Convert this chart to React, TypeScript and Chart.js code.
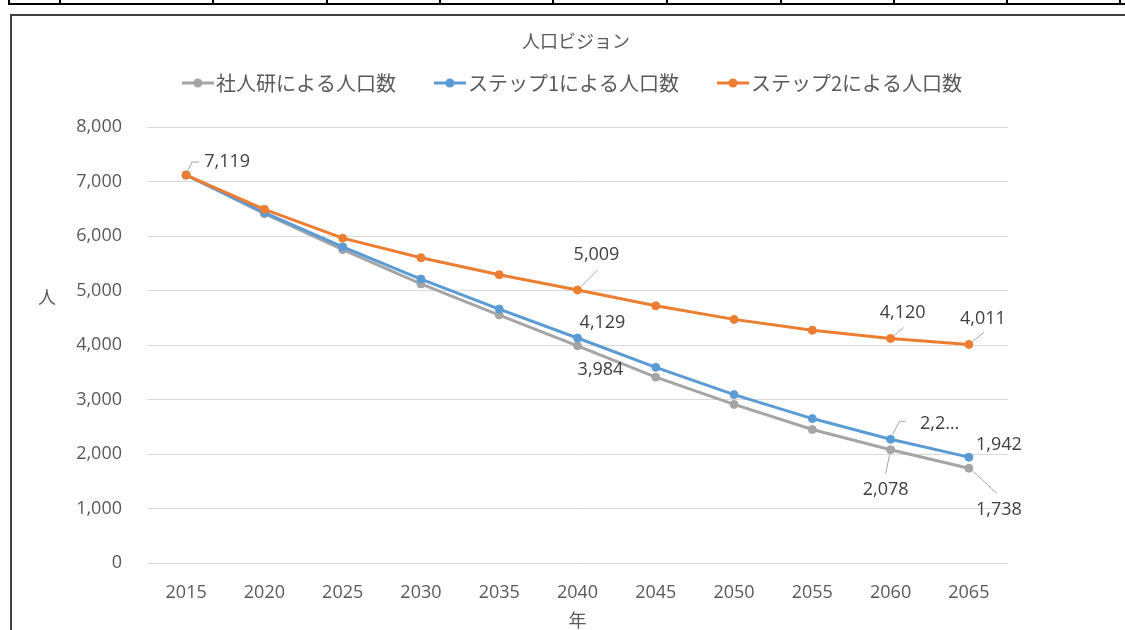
import React, { useEffect, useRef } from 'react';
import { Chart, registerables } from 'chart.js';

Chart.register(...registerables);

// ---- data ----
const chartTitle = '人口ビジョン';
const xAxisTitle = '年';
const yAxisTitle = '人';
const years = ['2015', '2020', '2025', '2030', '2035', '2040', '2045', '2050', '2055', '2060', '2065'];
const seriesNames = ['社人研による人口数', 'ステップ1による人口数', 'ステップ2による人口数'];
const shajinken = [7119, 6410, 5750, 5120, 4550, 3984, 3410, 2910, 2450, 2078, 1738];
const step1 = [7119, 6430, 5800, 5210, 4660, 4129, 3590, 3090, 2650, 2270, 1942];
const step2 = [7119, 6490, 5960, 5600, 5290, 5009, 4720, 4470, 4270, 4120, 4011];
const yMin = 0;
const yMax = 8000;
const yStep = 1000;

// which points carry a data label (dataset index, point index, optional shown text)
const labelledPoints = [
  { ds: 2, i: 0 },
  { ds: 2, i: 5 },
  { ds: 1, i: 5 },
  { ds: 0, i: 5 },
  { ds: 2, i: 9 },
  { ds: 2, i: 10 },
  { ds: 1, i: 9, text: '2,2…' },
  { ds: 1, i: 10 },
  { ds: 0, i: 9 },
  { ds: 0, i: 10 },
];

// ---- styles ----
const seriesColors = ['#A5A5A5', '#5B9BD5', '#ED7D31'];
const drawOrder = [3, 2, 1];
const labelPlacement: Record<string, { dx: number; dy: number; leader: number[][] }> = {
  '2-0': { dx: 41, dy: -13, leader: [[2, -5], [6, -13], [13, -13]] },
  '2-5': { dx: 19, dy: -35, leader: [[4, -4], [20, -20]] },
  '1-5': { dx: 25, dy: -15, leader: [] },
  '0-5': { dx: 23, dy: 24, leader: [] },
  '2-9': { dx: 12, dy: -26, leader: [[4, -3], [13, -11]] },
  '2-10': { dx: 14, dy: -26, leader: [[4, -3], [15, -12]] },
  '1-9': { dx: 49, dy: -15, leader: [[2, -5], [9, -18], [15, -18]] },
  '1-10': { dx: 30, dy: -12, leader: [] },
  '0-9': { dx: -5, dy: 40, leader: [[-1, 5], [-5, 24]] },
  '0-10': { dx: 30, dy: 42, leader: [[4, 3], [28, 25]] },
};
const cjkFont = '"Noto Sans CJK JP", "Noto Sans", sans-serif';
const numFont = '"Open Sans", "Noto Sans", sans-serif';
const textColor = '#595959';
const tableCols = [8, 59, 212, 326, 439, 552, 666, 780, 893, 1006, 1119];

const fmt = (v: number) => v.toLocaleString('en-US');

function makeMarker(color: string) {
  const c = document.createElement('canvas');
  c.width = 32;
  c.height = 12;
  const g = c.getContext('2d')!;
  g.strokeStyle = color;
  g.lineWidth = 3;
  g.beginPath();
  g.moveTo(0, 6);
  g.lineTo(32, 6);
  g.stroke();
  g.fillStyle = color;
  g.beginPath();
  g.arc(16, 6, 4.5, 0, Math.PI * 2);
  g.fill();
  return c;
}

const annotationsPlugin = {
  id: 'annotations',
  afterDatasetsDraw(chart: any) {
    const ctx = chart.ctx;
    ctx.save();
    labelledPoints.forEach((p) => {
      const el = chart.getDatasetMeta(p.ds).data[p.i];
      if (!el) return;
      const { x, y } = el.getProps(['x', 'y'], true);
      const place = labelPlacement[`${p.ds}-${p.i}`];
      if (place.leader.length) {
        ctx.beginPath();
        ctx.strokeStyle = '#A6A6A6';
        ctx.lineWidth = 1;
        place.leader.forEach(([lx, ly], k) => {
          if (k === 0) ctx.moveTo(x + lx, y + ly);
          else ctx.lineTo(x + lx, y + ly);
        });
        ctx.stroke();
      }
      const v = chart.data.datasets[p.ds].data[p.i] as number;
      ctx.font = `18px ${numFont}`;
      ctx.fillStyle = '#404040';
      ctx.textAlign = 'center';
      ctx.textBaseline = 'middle';
      ctx.fillText(p.text ?? fmt(v), x + place.dx, y + place.dy);
    });
    ctx.restore();
  },
  afterDraw(chart: any) {
    const ctx = chart.ctx;
    const a = chart.chartArea;
    ctx.save();
    ctx.font = `18px ${cjkFont}`;
    ctx.fillStyle = textColor;
    ctx.textAlign = 'center';
    ctx.textBaseline = 'middle';
    ctx.fillText(yAxisTitle, a.left - 100, a.top + 170);
    ctx.fillText(xAxisTitle, (a.left + a.right) / 2, a.bottom + 57);
    ctx.restore();
  },
};

export default function App() {
  const canvasRef = useRef<HTMLCanvasElement | null>(null);

  useEffect(() => {
    if (!canvasRef.current) return;
    const markers = seriesColors.map(makeMarker);
    const series = [shajinken, step1, step2];
    const chart = new Chart(canvasRef.current, {
      type: 'line',
      data: {
        labels: years,
        datasets: series.map((d, i) => ({
          label: seriesNames[i],
          data: d,
          borderColor: seriesColors[i],
          backgroundColor: seriesColors[i],
          pointBackgroundColor: seriesColors[i],
          pointBorderColor: seriesColors[i],
          borderWidth: 3,
          pointRadius: 4,
          pointBorderWidth: 1,
          tension: 0,
          order: drawOrder[i],
        })),
      },
      options: {
        responsive: false,
        animation: false,
        layout: { padding: { top: 11, left: 0, right: 0, bottom: 0 } },
        plugins: {
          title: {
            display: true,
            text: chartTitle,
            color: textColor,
            weight: 500,
            font: { family: cjkFont, size: 18, weight: 'normal' },
            padding: { top: -72.8, bottom: 75.2 },
          },
          legend: {
            display: true,
            position: 'top',
            weight: 1000,
            labels: {
              usePointStyle: true,
              pointStyleWidth: 16,
              padding: 46,
              color: textColor,
              font: { family: cjkFont, size: 20 },
              generateLabels: (c: any) =>
                c.data.datasets.map((ds: any, i: number) => ({
                  text: ds.label,
                  fillStyle: seriesColors[i],
                  strokeStyle: seriesColors[i],
                  lineWidth: 0,
                  pointStyle: markers[i],
                  hidden: !c.isDatasetVisible(i),
                  datasetIndex: i,
                  fontColor: textColor,
                })),
            },
          },
          tooltip: { enabled: false },
        },
        scales: {
          x: {
            type: 'category',
            offset: true,
            grid: { display: false, drawTicks: false },
            border: { display: false },
            ticks: { color: textColor, font: { family: numFont, size: 18 }, padding: 19, maxRotation: 0 },
            afterFit: (s: any) => {
              s.height = 67;
              s.paddingLeft = 0;
              s.paddingRight = 132;
            },
          },
          y: {
            min: yMin,
            max: yMax,
            ticks: {
              stepSize: yStep,
              color: textColor,
              font: { family: numFont, size: 18 },
              padding: 25,
              callback: (v: any) => fmt(Number(v)),
            },
            grid: { color: '#D9D9D9', lineWidth: 1, drawTicks: false },
            border: { display: false },
            afterFit: (s: any) => {
              s.width = 135;
            },
          },
        },
      },
      plugins: [annotationsPlugin],
    } as any);
    return () => chart.destroy();
  }, []);

  return (
    <div
      style={{
        position: 'fixed',
        left: 0,
        top: 0,
        width: 1125,
        height: 630,
        overflow: 'hidden',
        background: '#fff',
      }}
    >
      <div style={{ position: 'absolute', left: 8, top: 3, width: 1125, height: 2, background: '#000' }} />
      {tableCols.map((x) => (
        <div key={x} style={{ position: 'absolute', left: x, top: 0, width: 2, height: 5, background: '#000' }} />
      ))}
      <div
        style={{
          position: 'absolute',
          left: 10,
          top: 14,
          width: 1128,
          height: 640,
          border: '2px solid #404040',
        }}
      >
        <canvas ref={canvasRef} width={1128} height={614} style={{ display: 'block', width: 1128, height: 614 }} />
      </div>
    </div>
  );
}
